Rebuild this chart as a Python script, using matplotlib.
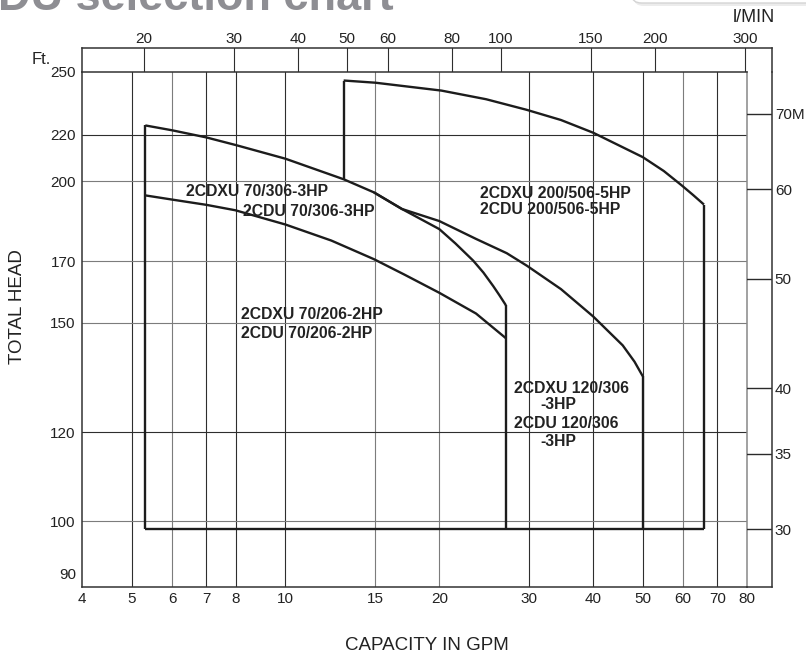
import matplotlib
matplotlib.use("Agg")
import matplotlib.pyplot as plt
from matplotlib.ticker import NullLocator
from matplotlib.patches import FancyBboxPatch

plt.rcParams['font.family'] = ['Liberation Sans', 'DejaVu Sans']

# axis scales
gpm_ticks = [4, 5, 6, 7, 8, 10, 15, 20, 30, 40, 50, 60, 70, 80]
lpm_ticks = [20, 30, 40, 50, 60, 80, 100, 150, 200, 300]
ft_ticks = [90, 100, 120, 150, 170, 200, 220, 250]
m_ticks = [30, 35, 40, 50, 60, 70]
m_labels = ["30", "35", "40", "50", "60", "70M"]
LPM_PER_GPM = 3.785
FT_PER_M = 3.281

# selection ranges: upper boundary curves (capacity GPM, head ft)
gpm_70_306 = [5.32, 6.0, 7.0, 8.0, 10.0, 13.0, 14.9, 16.9, 20.0, 21.5, 23.3, 24.4, 25.5, 26.2, 27.0]
ft_70_306 = [224.2, 222.0, 218.8, 215.4, 209.5, 200.9, 195.6, 189.1, 181.5, 176.3, 170.2, 166.1,
             161.6, 158.7, 155.4]

gpm_70_206 = [5.32, 5.98, 7.0, 7.98, 10.0, 12.3, 14.9, 17.1, 20.0, 23.6, 27.0]
ft_70_206 = [194.4, 192.8, 190.7, 188.6, 183.2, 177.3, 170.7, 165.4, 159.4, 152.8, 145.3]

gpm_120_306 = [14.9, 16.9, 20.0, 23.6, 27.1, 29.7, 34.6, 40.0, 45.7, 48.2, 50.0]
ft_120_306 = [195.6, 189.1, 184.5, 177.9, 172.8, 168.4, 160.6, 151.9, 143.2, 138.5, 134.5]

gpm_200_506 = [13.0, 15.0, 20.2, 24.7, 29.6, 34.6, 40.0, 50.0, 55.0, 59.7, 62.8, 65.9]
ft_200_506 = [245.7, 244.6, 240.7, 236.5, 231.5, 226.7, 220.9, 210.2, 204.3, 198.3, 194.5, 190.8]

head_min = 98.4  # common lower limit (30 m)

# model labels: (text, gpm, ft)
labels = [
    ("2CDXU 70/306-3HP", 6.4, 196.0),
    ("2CDU 70/306-3HP", 8.25, 188.2),
    ("2CDXU 70/206-2HP", 8.2, 152.4),
    ("2CDU 70/206-2HP", 8.2, 146.6),
    ("2CDXU 200/506-5HP", 24.0, 195.3),
    ("2CDU 200/506-5HP", 24.0, 188.7),
    ("2CDXU 120/306", 28.0, 131.2),
    ("-3HP", 31.6, 127.0),
    ("2CDU 120/306", 28.0, 122.0),
    ("-3HP", 31.6, 117.7),
]

W, H = 806, 653


def fx(px):
    return px / W


def fy(py):
    return 1 - py / H


fig = plt.figure(figsize=(W / 100, H / 100), dpi=100)

ylo, yhi = 87.5, 250
xlo, xhi = 4, 80

# main chart
ax = fig.add_axes([fx(82), fy(587), 665 / W, 515 / H])
ax.set_xscale('log')
ax.set_yscale('log')
ax.set_xlim(xlo, xhi)
ax.set_ylim(ylo, yhi)
ax.set_xticks(gpm_ticks, labels=[str(t) for t in gpm_ticks])
ax.set_yticks(ft_ticks, labels=[str(t) for t in ft_ticks])
ax.xaxis.set_minor_locator(NullLocator())
ax.yaxis.set_minor_locator(NullLocator())
ax.tick_params(axis='x', length=0, labelsize=11, pad=3.5, labelcolor='#222222')
ax.tick_params(axis='y', length=0, labelsize=11, pad=4.5, labelcolor='#222222')

gray_x = {6, 15, 20, 60}
gray_y = {200, 170, 150, 100}
for v in gpm_ticks[1:-1]:
    ax.axvline(v, color='#7c7c7c' if v in gray_x else '#2e2e2e', lw=0.8, zorder=1)
for h in ft_ticks[1:-1]:
    ax.axhline(h, color='#7c7c7c' if h in gray_y else '#2e2e2e', lw=0.8, zorder=1)

for side in ['left', 'bottom', 'top']:
    ax.spines[side].set_color('#333333')
    ax.spines[side].set_linewidth(1.1)
ax.spines['right'].set_color('#888888')
ax.spines['right'].set_linewidth(1.1)

lk = dict(color='#1c1c1c', lw=1.7, zorder=3, solid_joinstyle='round', solid_capstyle='butt')
# 70/306 range outline
ax.plot(gpm_70_306, ft_70_306, **lk)
ax.plot([gpm_70_306[0], gpm_70_306[0]], [head_min, ft_70_306[0]], **lk)
ax.plot([gpm_70_306[-1], gpm_70_306[-1]], [head_min, ft_70_306[-1]], **lk)
# 70/206 curve
ax.plot(gpm_70_206, ft_70_206, **lk)
# 120/306 range
ax.plot(gpm_120_306, ft_120_306, **lk)
ax.plot([gpm_120_306[-1], gpm_120_306[-1]], [head_min, ft_120_306[-1]], **lk)
# 200/506 range
ax.plot(gpm_200_506, ft_200_506, **lk)
ax.plot([gpm_200_506[0], gpm_200_506[0]], [ft_70_306[5], ft_200_506[0]], **lk)
ax.plot([gpm_200_506[-1], gpm_200_506[-1]], [head_min, ft_200_506[-1]], **lk)
# common bottom
ax.plot([gpm_70_306[0], gpm_200_506[-1]], [head_min, head_min], **lk)

for txt, gx, gy in labels:
    ax.text(gx, gy, txt, fontsize=11.3, fontweight='bold', color='#222222',
            ha='left', va='center', zorder=4)

# l/min scale box on top
ax_top = fig.add_axes([fx(82), fy(72), 690 / W, 24 / H])
ax_top.set_xscale('log')
top_right_gpm = xlo * (xhi / xlo) ** (690 / 665)
ax_top.set_xlim(xlo * LPM_PER_GPM, top_right_gpm * LPM_PER_GPM)
ax_top.set_ylim(0, 1)
ax_top.set_xticks(lpm_ticks, labels=[str(t) for t in lpm_ticks])
ax_top.xaxis.set_minor_locator(NullLocator())
ax_top.set_yticks([])
ax_top.xaxis.tick_top()
ax_top.tick_params(axis='x', length=0, labelsize=11, pad=1.5, labelcolor='#222222')
for v in lpm_ticks:
    ax_top.axvline(v, color='#2e2e2e', lw=0.8)
ax_top.spines['bottom'].set_visible(False)
for side in ['left', 'top', 'right']:
    ax_top.spines[side].set_color('#333333')
    ax_top.spines[side].set_linewidth(1.1)
ax_top.patch.set_alpha(0)

# metre scale on the right
ax_r = fig.add_axes([fx(747), fy(587), 25 / W, 515 / H])
ax_r.set_yscale('log')
ax_r.set_ylim(ylo / FT_PER_M, yhi / FT_PER_M)
ax_r.set_xlim(0, 1)
ax_r.set_yticks(m_ticks, labels=m_labels)
ax_r.yaxis.set_minor_locator(NullLocator())
ax_r.set_xticks([])
ax_r.yaxis.tick_right()
ax_r.tick_params(axis='y', length=0, labelsize=11, pad=2, labelcolor='#222222')
for m in m_ticks:
    ax_r.axhline(m, color='#2a2a2a', lw=1.0)
ax_r.spines['left'].set_visible(False)
ax_r.spines['top'].set_visible(False)
for side in ['right', 'bottom']:
    ax_r.spines[side].set_color('#333333')
    ax_r.spines[side].set_linewidth(1.1)
ax_r.patch.set_alpha(0)

# texts around
fig.text(fx(18), fy(307), "TOTAL HEAD", rotation=90, ha='center', va='center',
         fontsize=13.5, color='#222222')
fig.text(fx(427), fy(646), "CAPACITY IN GPM", ha='center', va='center',
         fontsize=13.5, color='#222222')
fig.text(fx(51), fy(59), "Ft.", ha='right', va='center', fontsize=12, color='#222222')
fig.text(fx(775), fy(17), "l/MIN", ha='right', va='center', fontsize=13, color='#222222')

# cut-off page heading and box at the top
fig.text(fx(-2), fy(10), "DU selection chart", ha='left', va='baseline',
         fontsize=32.5, fontweight='bold', color='#8e8e93')
shadow = FancyBboxPatch((fx(634), fy(6)), 0.3, 0.1, boxstyle='round,pad=0,rounding_size=0.012',
                        transform=fig.transFigure, fc='#ececec', ec='none', zorder=0)
fig.patches.append(shadow)
box = FancyBboxPatch((fx(632), fy(3)), 0.3, 0.1, boxstyle='round,pad=0,rounding_size=0.012',
                     transform=fig.transFigure, fc='white', ec='#d4d4d4', lw=1, zorder=1)
fig.patches.append(box)

fig.savefig("out.png", dpi=100)
